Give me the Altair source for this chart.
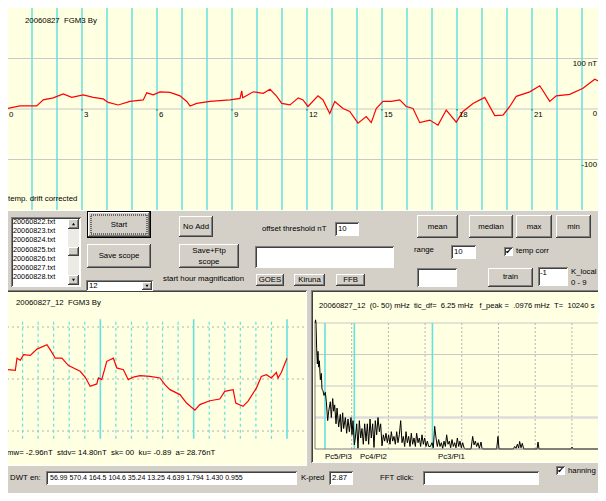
import altair as alt
import pandas as pd

# ---------------- chart data ----------------
# 24 h trace, By in nT
day_hours = [0.0, 0.52, 1.19, 1.45, 1.85, 2.25, 2.59, 3.05, 3.45, 3.85,
             4.05, 4.45, 4.92, 5.45, 5.59, 5.85, 6.12, 6.52, 6.92, 7.19,
             7.32, 7.59, 8.12, 8.92, 9.32, 9.39, 9.43, 9.85, 10.25, 10.52,
             10.79, 10.99, 11.32, 11.65, 11.84, 12.04, 12.44, 12.64, 12.91, 13.11,
             13.44, 13.71, 14.04, 14.37, 14.57, 14.77, 15.04, 15.37, 15.71, 15.97,
             16.24, 16.51, 16.91, 17.24, 17.57, 17.97, 18.24, 18.64, 19.11, 19.51,
             19.84, 20.11, 20.37, 20.91, 21.31, 21.71, 21.97, 22.51, 23.04, 23.51,
             23.71, 23.96]
day_by = [1, 6, 6, 18, 22, 30, 23, 28, 23, 20,
          13, 8, 15, 18, 32, 28, 34, 33, 26, 15,
          6, 11, 15, 18, 21, 36, 22, 34, 31, 39,
          25, 11, 8, 22, 18, 5, 26, 18, -9, 15,
          1, -5, -28, -15, -27, 1, 15, 15, 18, 5,
          1, -27, -22, -32, -2, -26, -5, 11, 23, -13,
          -12, 5, 25, 34, 46, 15, 26, 29, 41, 59,
          54, 64]

# magnified 12-15 h trace, By in nT
mag_hours = [12.000, 12.089, 12.107, 12.143, 12.178, 12.249, 12.321, 12.428, 12.463, 12.517,
             12.588, 12.659, 12.784, 12.837, 12.891, 12.962, 12.980, 13.015, 13.069, 13.140,
             13.176, 13.247, 13.300, 13.354, 13.425, 13.532, 13.639, 13.692, 13.746, 13.853,
             13.924, 14.013, 14.066, 14.173, 14.280, 14.333, 14.423, 14.451, 14.529, 14.583,
             14.672, 14.725, 14.779, 14.832, 14.886, 14.904, 14.939, 15.000]
mag_by = [7.2, 6.7, 16, 14.4, 18.7, 18.2, 23, 26.4, 22.6, 16,
          16, 10.3, 5.9, 1.5, -5.6, -3.8, 0.8, -0.5, 13.6, 16,
          8.5, 7.2, -0.5, 1.5, 2.6, 2.0, 0.8, -4.4, -8.2, -12,
          -18.5, -24, -19.7, -16.7, -15.4, -9.5, -8.2, -18.5, -21, -17,
          -7, 2, 3.3, 0.8, 5, 0.8, 5, 16]

# FFT amplitude spectrum 0-50 mHz
fft_mhz = [0.0, 0.10, 0.17, 0.28, 0.40, 0.51, 0.62, 0.74, 0.91, 1.08,
           1.19, 1.36, 1.53, 1.76, 1.93, 2.16, 2.33, 2.61, 2.78, 3.01,
           3.18, 3.35, 3.58, 3.75, 4.03, 4.31, 4.48, 4.71, 4.88, 5.17,
           5.39, 5.62, 5.85, 6.13, 6.30, 6.47, 6.70, 6.87, 7.10, 7.32,
           7.55, 7.78, 8.00, 8.23, 8.46, 8.69, 8.91, 9.14, 9.37, 9.59,
           9.82, 10.05, 10.27, 10.50, 10.73, 10.96, 11.18, 11.41, 11.64, 11.86,
           12.09, 12.32, 12.54, 12.77, 13.00, 13.23, 13.45, 13.68, 13.91, 14.13,
           14.36, 14.59, 14.82, 15.04, 15.27, 15.50, 15.72, 15.95, 16.18, 16.40,
           16.63, 16.86, 17.09, 17.31, 17.54, 17.77, 17.99, 18.22, 18.45, 18.67,
           18.90, 19.13, 19.36, 19.64, 19.93, 20.15, 20.38, 20.61, 20.83, 21.06,
           21.29, 21.52, 21.74, 21.97, 22.20, 22.42, 22.65, 22.88, 23.10, 23.33,
           23.56, 23.78, 24.01, 24.24, 24.47, 24.69, 24.92, 25.15, 25.37, 25.60,
           26.57, 26.85, 27.08, 27.30, 27.53, 27.76, 27.99, 28.27, 28.44, 28.55,
           30.94, 31.16, 31.34, 33.78, 34.00, 34.23, 34.46, 34.68, 34.85, 35.08,
           35.31, 35.54, 37.81, 37.98, 38.15, 43.60, 43.77, 43.99, 50.0]
fft_amp = [4.0, 4.1, 4.0, 3.2, 2.7, 3.1, 2.6, 2.8, 2.2, 2.4,
           1.9, 1.85, 1.7, 1.8, 1.5, 0.9, 1.2, 1.5, 1.0, 1.6,
           1.2, 1.4, 0.8, 1.3, 0.7, 1.1, 0.55, 1.15, 0.65, 1.0,
           0.5, 0.95, 0.55, 1.0, 0.45, 0.9, 0.13, 0.35, 0.8, 0.02,
           0.9, 0.35, 0.65, 0.15, 0.8, 0.25, 0.8, 0.15, 0.95, 0.35,
           0.8, 0.05, 0.9, 0.45, 1.0, 0.55, 0.8, 0.1, 0.45, 0.25,
           0.5, 0.2, 0.45, 0.15, 0.55, 0.25, 0.4, 0.15, 0.55, 0.2,
           0.45, 0.9, 0.2, 0.4, 0.08, 0.55, 0.2, 0.4, 0.08, 0.5,
           0.15, 0.35, 0.08, 0.5, 0.2, 0.35, 0.08, 0.45, 0.15, 0.35,
           0.08, 0.25, 0.08, 0.08, 0.2, 0.04, 0.72, 0.35, 0.08, 0.3,
           0.08, 0.2, 0.02, 0.25, 0.08, 0.45, 0.15, 0.25, 0.04, 0.3,
           0.08, 0.2, 0.04, 0.35, 0.08, 0.25, 0.04, 0.2, 0.04, 0.0,
           0.0, 0.4, 0.13, 0.25, 0.08, 0.2, 0.02, 0.22, 0.02, 0.0,
           0.0, 0.4, 0.0, 0.0, 0.08, 0.02, 0.15, 0.03, 0.24, 0.04,
           0.18, 0.0, 0.0, 0.22, 0.0, 0.0, 0.06, 0.0, 0.0]

hour_ticks = [0, 3, 6, 9, 12, 15, 18, 21]
day_grid_hours = list(range(24))
day_y_ticks = [100, 0, -100]
day_y_labels = ["100 nT", "0", "-100"]
mag_hour_lines = [12, 13, 14, 15]
mag_10min_lines = [12 + k / 6 for k in range(1, 18) if k % 6 != 0]
mag_y_grid = [40, 0, -40]
fft_amp_grid = [1, 2, 3, 4]
fft_tic_lines = [6.25 * k for k in range(1, 8)]
pc_bounds = [1.7, 6.7, 20.0]
pc_labels = ["Pc5/Pi3", "Pc4/Pi2", "Pc3/Pi1"]
files = ["20060822.txt", "20060823.txt", "20060824.txt", "20060825.txt",
         "20060826.txt", "20060827.txt", "20060828.txt"]
dwt_text = "56.99 570.4 164.5 104.6 35.24 13.25 4.639 1.794 1.430 0.955"
stats_text = "mw= -2.96nT  stdv= 14.80nT  sk= 00  ku= -0.89  a= 28.76nT"
fft_header = "20060827_12  (0- 50) mHz  tic_df=  6.25 mHz   f_peak =  .0976 mHz  T=  10240 s"

# ---------------- layout / style ----------------
W, H = 590, 485
OX, OY = 8, 8
BG = "#D4D0C8"
PANEL = "#FFFFE1"
CYAN = "#66E0E0"
GRID = "#C8C8C8"
DARK = "#404040"
SHADOW = "#808080"
FONT = "Liberation Sans, Arial, sans-serif"
FS = 7.8


def lin(p0, v0, p1, v1, a, b):
    k = (v1 - v0) / (p1 - p0)
    return [v0 + (a - p0) * k, v0 + (b - p0) * k]


def scales(px0, vx0, px1, vx1, py0, vy0, py1, vy1):
    sx = alt.Scale(domain=lin(px0, vx0, px1, vx1, OX, OX + W), nice=False, zero=False)
    sy = alt.Scale(domain=lin(py0, vy0, py1, vy1, OY + H, OY), nice=False, zero=False)
    return sx, sy


PX = scales(0, 0, 1, 1, 0, 0, 1, 1)
DAY = scales(7, 0, 82, 3, 109, 0, 58.5, 100)
MAG = scales(7, 12, 287, 15, 379, 0, 327, 40)
FFT = scales(315, 0, 351.7, 6.25, 449, 0, 323, 4)


def XY(sc, x, y):
    return dict(x=alt.X(x, type="quantitative", scale=sc[0], axis=None),
                y=alt.Y(y, type="quantitative", scale=sc[1], axis=None))


def rect_layer(df, color, d=(0, 0, 0, 0), **mk):
    return alt.Chart(df).transform_calculate(
        a=f"datum.x1+({d[0]})", b=f"datum.y1+({d[1]})",
        c=f"datum.x2+({d[2]})", e=f"datum.y2+({d[3]})"
    ).mark_rect(color=color, **mk).encode(**XY(PX, "a", "b"), x2=alt.X2("c"), y2=alt.Y2("e"))


def boxes(rows):
    return pd.DataFrame(rows, columns=["x1", "y1", "x2", "y2"])


def raised(rows):
    df = boxes(rows)
    return [rect_layer(df, DARK), rect_layer(df, "white", (0, 0, -1, -1)),
            rect_layer(df, SHADOW, (1, 1, -1, -1)), rect_layer(df, BG, (1, 1, -2, -2))]


def sunken(rows, face="white"):
    df = boxes(rows)
    return [rect_layer(df, SHADOW), rect_layer(df, "white", (1, 1, 0, 0)),
            rect_layer(df, DARK, (1, 1, -1, -1)), rect_layer(df, face, (2, 2, -1, -1))]


def texts(rows, align="left", size=FS, color="black", font=FONT):
    df = pd.DataFrame(rows, columns=["x", "y", "t"])
    df["t"] = df["t"].str.replace(" ", "\u00a0")
    return alt.Chart(df).mark_text(align=align, baseline="middle", fontSize=size,
                                   font=font, color=color).encode(**XY(PX, "x", "y"), text="t:N")


def rules(df, sc, x, y, x2=None, y2=None, color="black", width=1, dash=None):
    kw = dict(color=color, strokeWidth=width)
    if dash:
        kw["strokeDash"] = dash
    enc = XY(sc, x, y)
    if x2:
        enc["x2"] = alt.X2(x2)
    if y2:
        enc["y2"] = alt.Y2(y2)
    return alt.Chart(df).mark_rule(**kw).encode(**enc)


layers = []
# panels
layers += sunken([[5, 6, 607, 211]], PANEL)
layers += sunken([[4, 290, 307, 466]], PANEL)
layers += sunken([[311, 290, 607, 463]], PANEL)
# white text boxes
layers += sunken([[11, 217, 81, 287], [335, 222, 359, 236], [255, 246, 394, 268],
                  [451, 245, 476, 259], [417, 268, 457, 287], [538, 267, 568, 286],
                  [86, 280, 153, 291], [46, 471, 297, 485], [329, 471, 353, 485],
                  [423, 471, 539, 485], [504, 247, 513, 256], [556, 466, 565, 475]])
# scrollbar track
layers.append(rect_layer(boxes([[68, 219, 79, 285]]), "#ECEBE6"))
# start button (default button with black frame)
layers.append(rect_layer(boxes([[87, 211, 151, 238]]), "black"))
layers += raised([[88, 212, 150, 237]])
layers.append(rect_layer(boxes([[91, 215, 147, 234]]), "black", filled=False,
                         strokeDash=[1, 1], strokeWidth=1))
layers += raised([[87, 244, 151, 268], [179, 216, 213, 237], [179, 244, 239, 268],
                  [256, 274, 284, 286], [294, 274, 325, 286], [336, 274, 365, 286],
                  [417, 215, 458, 238], [469, 215, 513, 238], [516, 215, 552, 238],
                  [556, 215, 591, 238], [488, 268, 533, 287],
                  [68, 219, 79, 229], [68, 275, 79, 285], [68, 247, 79, 256],
                  [142, 282, 152, 290]])
tri = pd.DataFrame({"x": [73.5, 73.5, 147], "y": [224, 280, 286],
                    "s": ["triangle-up", "triangle-down", "triangle-down"]})
for shp in ["triangle-up", "triangle-down"]:
    layers.append(alt.Chart(tri[tri.s == shp]).mark_point(shape=shp, filled=True, color="black",
                                                          size=9, opacity=1).encode(**XY(PX, "x", "y")))

# ---- 24 h panel ----
dgrid = pd.DataFrame({"v": day_y_ticks, "h1": -0.04, "h2": 24.0})
layers.append(rules(dgrid, DAY, "h1", "v", x2="h2", color=GRID))
dv = pd.DataFrame({"h": day_grid_hours, "v1": -200, "v2": 200})
layers.append(rules(dv, DAY, "h", "v1", y2="v2", color=CYAN, width=1.5))
dt = pd.DataFrame({"h": hour_ticks, "v1": 0, "v2": -3})
layers.append(rules(dt, DAY, "h", "v1", y2="v2", color=DARK))
layers.append(alt.Chart(pd.DataFrame({"h": day_hours, "v": day_by})).mark_line(
    color="#FF0000", strokeWidth=1.2).encode(**XY(DAY, "h", "v")))
hl = pd.DataFrame({"h": hour_ticks, "v": 0, "t": [str(h) for h in hour_ticks]})
layers.append(alt.Chart(hl).mark_text(align="left", baseline="middle", dx=2, dy=6, fontSize=FS,
                                      font=FONT, color="black").encode(**XY(DAY, "h", "v"), text="t:N"))
yl = pd.DataFrame({"v": day_y_ticks, "t": [s.replace(" ", "\u00a0") for s in day_y_labels]})
layers.append(alt.Chart(yl).mark_text(align="right", baseline="middle", dy=5, fontSize=FS, font=FONT,
                                      color="black").encode(
    x=alt.value(597 - OX), y=alt.Y("v", type="quantitative", scale=DAY[1], axis=None), text="t:N"))

# ---- magnified panel ----
mg = pd.DataFrame({"v": mag_y_grid, "h1": 12.0, "h2": 15.2})
layers.append(rules(mg, MAG, "h1", "v", x2="h2", color="#B0B0B0", dash=[2, 3]))
m10 = pd.DataFrame({"h": mag_10min_lines, "v1": -46, "v2": 46})
layers.append(rules(m10, MAG, "h", "v1", y2="v2", color=CYAN, width=1.2, dash=[3, 3]))
mh = pd.DataFrame({"h": mag_hour_lines, "v1": -46, "v2": 46})
layers.append(rules(mh, MAG, "h", "v1", y2="v2", color=CYAN, width=1.6))
layers.append(alt.Chart(pd.DataFrame({"h": mag_hours, "v": mag_by})).mark_line(
    color="#FF0000", strokeWidth=1.2).encode(**XY(MAG, "h", "v")))

# ---- FFT panel ----
fg = pd.DataFrame({"a": fft_amp_grid, "f1": 0.0, "f2": 50.0})
layers.append(rules(fg, FFT, "f1", "a", x2="f2", color=GRID))
layers.append(rules(fg[fg.a == 1], FFT, "f1", "a", x2="f2", color="#DCDCDC", width=2.5))
fv = pd.DataFrame({"f": fft_tic_lines, "a1": 0, "a2": 4})
layers.append(rules(fv, FFT, "f", "a1", y2="a2", color="#B4B4B4", dash=[2, 2]))
pc = pd.DataFrame({"f": pc_bounds, "a1": 0, "a2": 4})
layers.append(rules(pc, FFT, "f", "a1", y2="a2", color=CYAN, width=1.6))
layers.append(alt.Chart(pd.DataFrame({"f": fft_mhz, "a": fft_amp})).mark_line(
    color="black", strokeWidth=1).encode(**XY(FFT, "f", "a")))
ax = pd.DataFrame({"f1": [0.0, 0.0], "a1": [0, 0], "f2": [50.0, 0.0], "a2": [0, 4]})
layers.append(rules(ax, FFT, "f1", "a1", x2="f2", y2="a2", color=SHADOW))

# ---- texts ----
left_rows = [[25, 21, "20060827  FGM3 By"], [8, 199, "temp. drift corrected"],
             [262, 229, "offset threshold nT"], [338, 229, "10"],
             [163, 279, "start hour magnification"], [89, 286, "12"],
             [414, 250, "range"], [454, 252, "10"], [516, 251, "temp corr"],
             [540, 273, "-1"], [571, 272, "K_local"], [571, 283, "0 - 9"],
             [16, 303, "20060827_12  FGM3 By"], [7, 453, stats_text],
             [325, 457, pc_labels[0]], [360, 457, pc_labels[1]], [438, 457, pc_labels[2]],
             [10, 478, "DWT en:"], [301, 478, "K-pred"],
             [332, 478, "2.87"], [380, 478, "FFT click:"], [568, 471, "hanning"]]
layers.append(texts(left_rows))
layers.append(texts([[13, 222 + 9.2 * i, f] for i, f in enumerate(files)], size=7.3))
layers.append(texts([[50, 478, dwt_text]], size=7))
layers.append(texts([[319, 306, fft_header]], size=7.6))
center_rows = [[119, 225, "Start"], [119, 256, "Save scope"], [196, 227, "No Add"],
               [209, 251, "Save+Ftp"], [209, 262, "scope"], [270, 280, "GOES"],
               [309.5, 280, "Kiruna"], [350.5, 280, "FFB"], [437.5, 227, "mean"],
               [491, 227, "median"], [534, 227, "max"], [573.5, 227, "min"],
               [510.5, 277, "train"]]
layers.append(texts(center_rows, align="center"))
layers.append(texts([[508.5, 251.5, "\u2714"], [560.5, 470.5, "\u2714"]], align="center",
                    size=8, font="DejaVu Sans"))

chart = alt.layer(*layers).resolve_scale(x="independent", y="independent").properties(
    width=W, height=H, background=BG, padding=0,
    autosize=alt.AutoSizeParams(type="none")
).configure_view(stroke=None)

chart.save("out.html", embed_options={"renderer": "svg", "actions": False})
